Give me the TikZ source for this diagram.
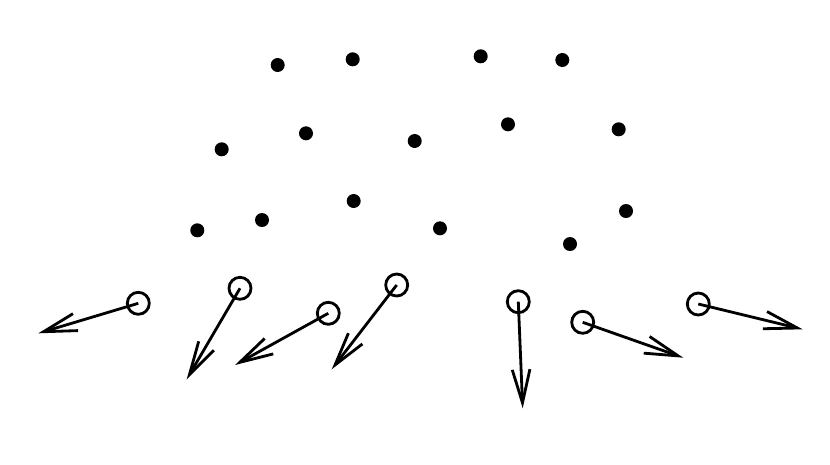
\documentclass[tikz,border=0pt]{standalone}
\usepackage{tikz}
\usetikzlibrary{arrows.meta}

\begin{document}
\begin{tikzpicture}[x=0.03cm,y=-0.03cm,line width=2.4pt,
    atom/.style={circle,fill=black,inner sep=0pt,minimum size=0.42cm},
    probe/.style={circle,draw=black,inner sep=0pt,minimum size=0.66cm},
    kick/.style={-{Straight Barb[length=1.0cm,width=0.53cm,line width=2.4pt]}}]
    \useasboundingbox (0,0) rectangle (830,464);
    % filled dots
    \draw (277.7,65) node(a1) [atom] {}
        (352.7,59.3) node(a2) [atom] {}
        (480.7,56.3) node(a3) [atom] {}
        (562.3,60) node(a4) [atom] {}
        (221.7,149.3) node(a5) [atom] {}
        (306,133.3) node(a6) [atom] {}
        (414.7,141) node(a7) [atom] {}
        (508,124.3) node(a8) [atom] {}
        (618.7,129.3) node(a9) [atom] {}
        (197.3,230.3) node(a10) [atom] {}
        (262,220) node(a11) [atom] {}
        (353.7,201) node(a12) [atom] {}
        (440,228.3) node(a13) [atom] {}
        (626,211) node(a14) [atom] {}
        (570,244) node(a15) [atom] {};
    % open circles
    \draw (138.3,303.3) node(p1) [probe] {}
        (240,288.3) node(p2) [probe] {}
        (328.3,313.3) node(p3) [probe] {}
        (396.7,285) node(p4) [probe] {}
        (518.3,301.7) node(p5) [probe] {}
        (582.7,322.3) node(p6) [probe] {}
        (698.3,304) node(p7) [probe] {};
    \coordinate (t1) at (38.3,333.3);
    \coordinate (t2) at (186.7,379.3);
    \coordinate (t3) at (235,365);
    \coordinate (t4) at (331.7,369.3);
    \coordinate (t5) at (522.7,408.3);
    \coordinate (t6) at (683.3,357.7);
    \coordinate (t7) at (802.7,329.3);
    \foreach \i in {1,...,7}
        \draw[kick] (p\i.center) -- (t\i);
\end{tikzpicture}
\end{document}
